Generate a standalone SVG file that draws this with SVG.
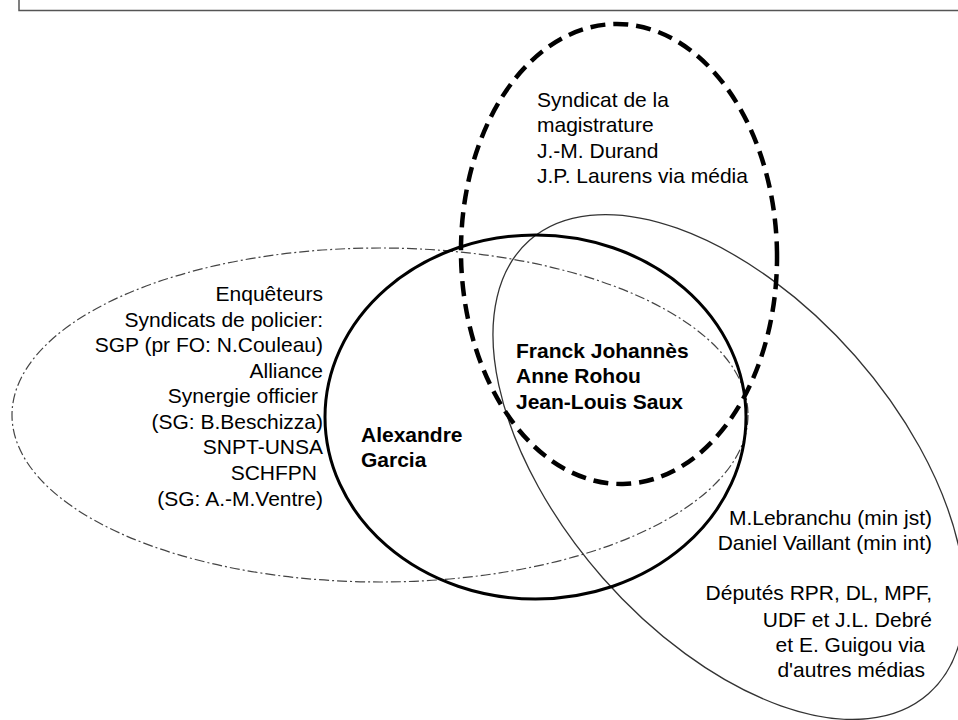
<svg xmlns="http://www.w3.org/2000/svg" width="958" height="720" viewBox="0 0 958 720">
  <style>
    .t { font-family: "Liberation Sans", Arial, sans-serif; font-size: 21px; fill: #000; }
    .b { font-weight: bold; }
    .e { text-anchor: end; }
    .frame { fill: none; stroke: #555; stroke-width: 1.5; }
    .dashed { fill: none; stroke: #000; stroke-width: 4.5; stroke-dasharray: 15 8; }
    .solid { fill: none; stroke: #000; stroke-width: 3; }
    .dashdot { fill: none; stroke: #444; stroke-width: 1.2; stroke-dasharray: 10 3 2 3; }
    .thin { fill: none; stroke: #333; stroke-width: 1.3; }
  </style>
  <rect width="958" height="720" fill="#fff"/>
  <rect class="frame" x="19" y="-20" width="960" height="30.5"/>

  <g id="police">
    <ellipse class="dashdot" cx="380" cy="415" rx="368" ry="167"/>
    <text class="t e" x="323" y="301">Enquêteurs</text>
    <text class="t e" x="323" y="327">Syndicats de policier:</text>
    <text class="t e" x="323" y="352">SGP (pr FO: N.Couleau)</text>
    <text class="t e" x="323" y="378">Alliance</text>
    <text class="t e" x="318" y="403">Synergie officier</text>
    <text class="t e" x="323" y="429">(SG: B.Beschizza)</text>
    <text class="t e" x="323" y="454">SNPT-UNSA</text>
    <text class="t e" x="317" y="480">SCHFPN</text>
    <text class="t e" x="323" y="506">(SG: A.-M.Ventre)</text>
  </g>

  <g id="gouvernement">
    <ellipse class="thin" cx="0" cy="0" rx="302" ry="168" transform="translate(729 467) rotate(48.66)"/>
    <text class="t e" x="932" y="525">M.Lebranchu (min jst)</text>
    <text class="t e" x="932" y="550">Daniel Vaillant (min int)</text>
    <text class="t e" x="932" y="600">Députés RPR, DL, MPF,</text>
    <text class="t e" x="932" y="627">UDF et J.L. Debré</text>
    <text class="t e" x="925" y="652">et E. Guigou via</text>
    <text class="t e" x="925" y="677">d'autres médias</text>
  </g>

  <g id="garcia">
    <ellipse class="solid" cx="535.5" cy="417" rx="210.5" ry="182"/>
    <text class="t b" x="361" y="442">Alexandre</text>
    <text class="t b" x="361" y="467">Garcia</text>
  </g>

  <g id="magistrature">
    <ellipse class="dashed" cx="0" cy="0" rx="158" ry="230" transform="translate(619 254) rotate(-1)"/>
    <text class="t" x="537" y="107">Syndicat de la</text>
    <text class="t" x="537" y="132">magistrature</text>
    <text class="t" x="537" y="158">J.-M. Durand</text>
    <text class="t" x="537" y="183">J.P. Laurens via média</text>
  </g>

  <g id="journalistes">
    <text class="t b" x="516" y="358">Franck Johannès</text>
    <text class="t b" x="516" y="383">Anne Rohou</text>
    <text class="t b" x="516" y="409">Jean-Louis Saux</text>
  </g>
</svg>
